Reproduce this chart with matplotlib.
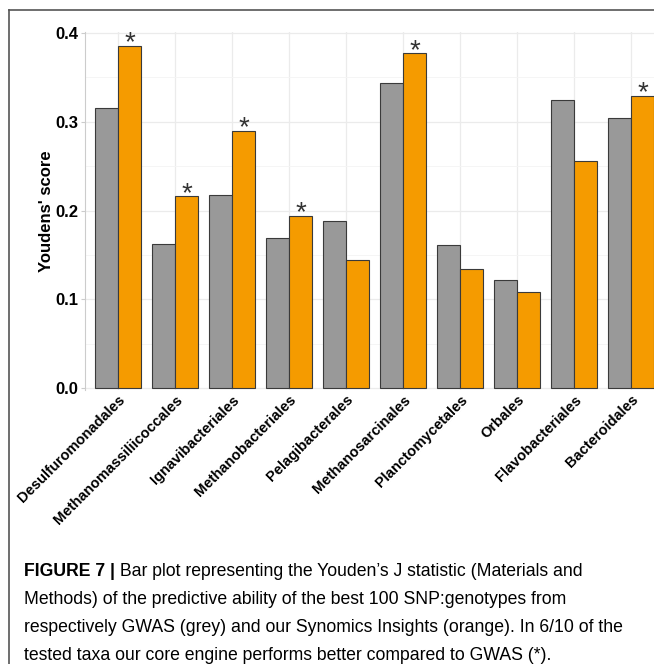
import numpy as np
import matplotlib
matplotlib.use("Agg")
import matplotlib.pyplot as plt
from matplotlib.ticker import MultipleLocator

plt.rcParams['font.family'] = ['Liberation Sans', 'DejaVu Sans']

taxa = ['Desulfuromonadales', 'Methanomassiliicoccales', 'Ignavibacteriales',
        'Methanobacteriales', 'Pelagibacterales', 'Methanosarcinales',
        'Planctomycetales', 'Orbales', 'Flavobacteriales', 'Bacteroidales']
gwas = [0.316, 0.162, 0.217, 0.169, 0.188, 0.344, 0.161, 0.122, 0.324, 0.304]
synomics = [0.385, 0.216, 0.290, 0.194, 0.144, 0.377, 0.134, 0.108, 0.256, 0.329]
better = [True, True, True, True, False, True, False, False, False, True]

caption_bold = "FIGURE 7 |"
caption_lines = [
    " Bar plot representing the Youden\u2019s J statistic (Materials and",
    "Methods) of the predictive ability of the best 100 SNP:genotypes from",
    "respectively GWAS (grey) and our Synomics Insights (orange). In 6/10 of the",
    "tested taxa our core engine performs better compared to GWAS (*).",
]

fig = plt.figure(figsize=(6.54, 6.64), dpi=100)
ax = fig.add_axes([0.130, 0.4127, 0.870, 0.5391])

x = np.arange(len(taxa))
w = 0.4
ax.bar(x - w / 2, gwas, w, color='#999999', edgecolor='#3a3a3a', linewidth=0.8, zorder=3)
ax.bar(x + w / 2, synomics, w, color='#f59b00', edgecolor='#3a3a3a', linewidth=0.8, zorder=3)

# asterisks where the Synomics score beats GWAS
for i in range(len(taxa)):
    if better[i]:
        ax.annotate('*', (x[i] + w / 2, synomics[i]), xytext=(0, -7.5),
                    textcoords='offset points', ha='center', va='bottom',
                    fontsize=20, color='#333333', zorder=4)

ax.set_xlim(-0.58, 9.40)
ax.set_ylim(-0.002, 0.401)
ax.yaxis.set_major_locator(MultipleLocator(0.1))
ax.yaxis.set_minor_locator(MultipleLocator(0.05))
ax.set_yticks([0.0, 0.1, 0.2, 0.3, 0.4])
ax.set_yticklabels(['0.0', '0.1', '0.2', '0.3', '0.4'], fontsize=12, fontweight='bold')
ax.set_xticks(x)
ax.set_xticklabels(taxa, rotation=45, ha='right', rotation_mode='anchor',
                   fontsize=10.5, fontweight='bold')
ax.tick_params(axis='x', length=0, pad=2)
ax.tick_params(axis='y', which='major', length=3, color='#cccccc', pad=2)
ax.tick_params(axis='y', which='minor', length=0)

ax.grid(which='major', color='#ebebeb', linewidth=0.9, zorder=0)
ax.grid(which='minor', axis='y', color='#f4f4f4', linewidth=0.6, zorder=0)
for s in ['top', 'right', 'bottom']:
    ax.spines[s].set_visible(False)
ax.spines['left'].set_color('#cccccc')
ax.set_ylabel("Youdens' score", fontsize=12, fontweight='bold', labelpad=1)

# frame around the chart panel
fig.add_artist(plt.Line2D([9 / 654, 9 / 654], [0, 1 - 10 / 664], color='#555555', lw=1.2))
fig.add_artist(plt.Line2D([9 / 654, 1], [1 - 10 / 664, 1 - 10 / 664], color='#555555', lw=1.2))

# caption
t = fig.text(24 / 654, 1 - 571 / 664, caption_bold, fontsize=12.7, fontweight='bold', va='center')
fig.canvas.draw()
bb = t.get_window_extent()
fig.text(bb.x1 / fig.bbox.width, 1 - 571 / 664, caption_lines[0], fontsize=12.7, va='center')
for k in range(1, 4):
    fig.text(24 / 654, 1 - (571 + 28 * k) / 664, caption_lines[k], fontsize=12.7, va='center')

fig.savefig('out.png', dpi=100)
